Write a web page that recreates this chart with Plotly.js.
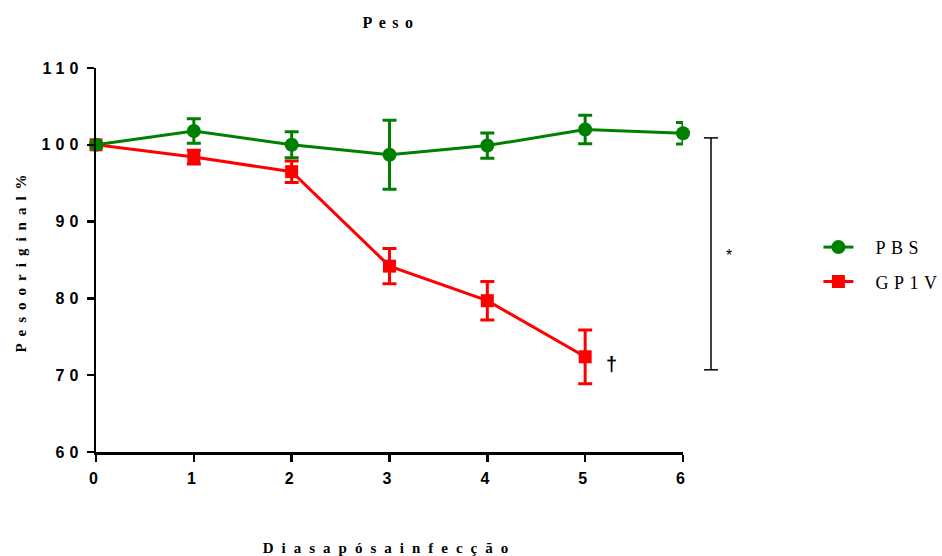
<!DOCTYPE html>
<html>
<head>
<meta charset="utf-8">
<script src="https://cdn.plot.ly/plotly-3.0.1.min.js"></script>
<style>
  html, body { margin: 0; padding: 0; background: #fff; }
  #chart { width: 942px; height: 556px; }
  .gtitle { letter-spacing: 6.5px; }
  .g-xtitle text { letter-spacing: 8px; }
  .g-ytitle text { letter-spacing: 7px; }
  #chart .legendtext { letter-spacing: 5.5px; transform: translateX(17px); }
  #chart .legend .scrollbox { clip-path: none !important; }
  .xtick text, .ytick text { letter-spacing: 5px; }
</style>
</head>
<body>
<div id="chart"></div>
<script>
// Days after infection
const days = [0, 1, 2, 3, 4, 5, 6];
const daysGp1v = [0, 1, 2, 3, 4, 5];

// Body weight as % of original (mean and error)
const pbsMean = [100.0, 101.8, 100.0, 98.7, 99.9, 102.0, 101.5];
const pbsErr  = [0.3, 1.6, 1.7, 4.5, 1.65, 1.85, 1.4];
const gp1vMean = [100.0, 98.4, 96.5, 84.2, 79.7, 72.4];
const gp1vErr  = [0.3, 0.9, 1.4, 2.3, 2.5, 3.5];

const seriesNames = ['PBS', 'GP1V'];
const yTicks = [60, 70, 80, 90, 100, 110];

const green = '#008000';
const red = '#ff0000';

// GP1V is drawn first so the PBS markers sit on top
const traces = [
  {
    x: daysGp1v, y: gp1vMean, name: seriesNames[1], legendgroup: 'gp1v', legendrank: 2,
    type: 'scatter', mode: 'lines+markers',
    line: { color: red, width: 3 },
    marker: { symbol: 'square', size: 13, color: red },
    error_y: { type: 'data', array: gp1vErr, visible: true, color: red, thickness: 3, width: 7 },
    cliponaxis: false
  },
  {
    x: days, y: pbsMean, name: seriesNames[0], legendgroup: 'pbs', legendrank: 1,
    type: 'scatter', mode: 'lines+markers',
    line: { color: green, width: 3 },
    marker: { symbol: 'circle', size: 14, color: green },
    error_y: { type: 'data', array: pbsErr, visible: true, color: green, thickness: 3, width: 7 },
    cliponaxis: false
  }
];

const tickFont = { family: 'Liberation Sans, Arial, sans-serif', size: 16, weight: 'bold', color: '#000' };
const serifBold = { family: 'Liberation Serif, Times New Roman, serif', size: 15, weight: 'bold', color: '#000' };

const layout = {
  width: 942, height: 556,
  margin: { l: 96, r: 259, t: 68, b: 104 },
  paper_bgcolor: '#fff', plot_bgcolor: '#fff',
  showlegend: true,
  title: {
    text: 'Peso',
    font: { family: 'Liberation Serif, Times New Roman, serif', size: 16, weight: 'bold', color: '#000' },
    x: 0.415, xanchor: 'center', y: 0.96, yanchor: 'middle'
  },
  xaxis: {
    range: [0, 6], tickvals: days, ticktext: days.map(String),
    showgrid: false, zeroline: false,
    showline: true, linecolor: '#000', linewidth: 2.5,
    ticks: 'outside', ticklen: 7, tickwidth: 2.5, tickcolor: '#000',
    ticklabelstandoff: 3,
    tickfont: tickFont,
    title: { text: 'Diasapósainfecção', font: serifBold, standoff: 58 }
  },
  yaxis: {
    range: [60, 110], tickvals: yTicks, ticktext: yTicks.map(String),
    showgrid: false, zeroline: false,
    showline: true, linecolor: '#000', linewidth: 2.5,
    ticks: 'outside', ticklen: 7, tickwidth: 2.5, tickcolor: '#000',
    tickfont: tickFont,
    title: { text: 'Pesooriginal%', font: serifBold, standoff: 12 }
  },
  legend: {
    x: 1.2307, y: 0.581, xanchor: 'left', yanchor: 'top',
    traceorder: 'grouped', tracegroupgap: 8,
    font: { family: 'Liberation Serif, Times New Roman, serif', size: 18, color: '#000' },
    bgcolor: 'rgba(0,0,0,0)'
  },
  shapes: [
    // significance bracket between the two groups
    { type: 'line', xref: 'paper', yref: 'y', x0: 1.0477, x1: 1.0477, y0: 70.7, y1: 100.9, line: { color: '#000', width: 1.5 } },
    { type: 'line', xref: 'paper', yref: 'y', x0: 1.0358, x1: 1.0596, y0: 100.9, y1: 100.9, line: { color: '#000', width: 1.5 } },
    { type: 'line', xref: 'paper', yref: 'y', x0: 1.0358, x1: 1.0596, y0: 70.7, y1: 70.7, line: { color: '#000', width: 1.5 } }
  ],
  annotations: [
    { text: '*', xref: 'paper', yref: 'paper', x: 1.087, y: 0.511, showarrow: false,
      font: { family: 'Liberation Sans, Arial, sans-serif', size: 16, color: '#000' } },
    { text: '†', xref: 'x', yref: 'y', x: 5.27, y: 71.4, showarrow: false,
      font: { family: 'Liberation Sans, Arial, sans-serif', size: 20, weight: 'bold', color: '#000' } }
  ]
};

Plotly.newPlot('chart', traces, layout, { displayModeBar: false, staticPlot: true });
</script>
</body>
</html>
